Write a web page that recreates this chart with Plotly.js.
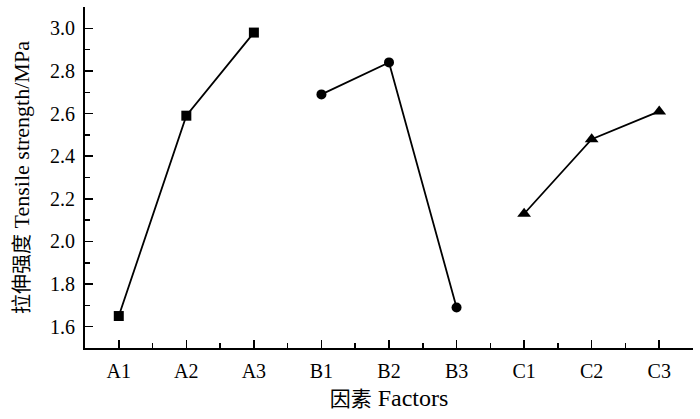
<!DOCTYPE html>
<html>
<head>
<meta charset="utf-8">
<script src="https://cdn.plot.ly/plotly-3.0.1.min.js"></script>
<style>html,body{margin:0;padding:0;background:#fff;}#chart{width:700px;height:419px;}</style>
</head>
<body>
<div id="chart"></div>
<script>
const categories = ['A1','A2','A3','B1','B2','B3','C1','C2','C3'];
const seriesA_x = ['A1','A2','A3'];
const seriesA_y = [1.65, 2.59, 2.98];
const seriesB_x = ['B1','B2','B3'];
const seriesB_y = [2.69, 2.84, 1.69];
const seriesC_x = ['C1','C2','C3'];
const seriesC_y = [2.13, 2.48, 2.61];
const yTickVals = [1.6, 1.8, 2.0, 2.2, 2.4, 2.6, 2.8, 3.0];
const yTickText = ['1.6','1.8','2.0','2.2','2.4','2.6','2.8','3.0'];

const idx = arr => arr.map(c => categories.indexOf(c));
const font = "'Liberation Serif', 'Times New Roman', 'Noto Sans CJK SC', serif";

function series(xs, ys, symbol, size) {
  return {
    x: idx(xs), y: ys, type: 'scatter', mode: 'lines+markers',
    line: {color: '#000', width: 1.8},
    marker: {symbol: symbol, size: size, color: '#000'},
    showlegend: false, hoverinfo: 'skip'
  };
}

const data = [
  series(seriesA_x, seriesA_y, 'square', 10),
  series(seriesB_x, seriesB_y, 'circle', 10),
  series(seriesC_x, seriesC_y, 'triangle-up', 12)
];

const minorX = [];
for (let i = -1; i < categories.length; i++) minorX.push(i + 0.5);

const layout = {
  width: 700, height: 419,
  margin: {l: 85, r: 7, t: 7, b: 71},
  paper_bgcolor: '#fff', plot_bgcolor: '#fff',
  font: {family: font, color: '#000', size: 20},
  xaxis: {
    range: [-0.5, categories.length - 0.5],
    tickmode: 'array', tickvals: categories.map((c, i) => i), ticktext: categories,
    ticks: 'inside', ticklen: 8, tickwidth: 1.5, tickcolor: '#000',
    minor: {tickmode: 'array', tickvals: minorX, ticks: 'inside', ticklen: 5, tickwidth: 1.5, tickcolor: '#000'},
    showline: true, linecolor: '#000', linewidth: 2,
    showgrid: false, zeroline: false,
    tickfont: {family: font, size: 20},
    ticklabelstandoff: 4,
    title: {text: '<span style="font-size:21px">因素</span> Factors', font: {family: font, size: 24}, standoff: 8}
  },
  yaxis: {
    range: [1.5, 3.1],
    tickmode: 'array', tickvals: yTickVals, ticktext: yTickText,
    ticks: 'inside', ticklen: 8, tickwidth: 1.5, tickcolor: '#000',
    minor: {tickmode: 'linear', tick0: 1.5, dtick: 0.1, ticks: 'inside', ticklen: 5, tickwidth: 1.5, tickcolor: '#000'},
    showline: true, linecolor: '#000', linewidth: 2,
    showgrid: false, zeroline: false,
    tickfont: {family: font, size: 20},
    ticklabelstandoff: 4,
    title: {text: '<span style="font-size:20px">拉伸强度</span> Tensile strength/MPa', font: {family: font, size: 22}, standoff: 14}
  }
};

Plotly.newPlot('chart', data, layout, {staticPlot: true, displayModeBar: false});
</script>
</body>
</html>
